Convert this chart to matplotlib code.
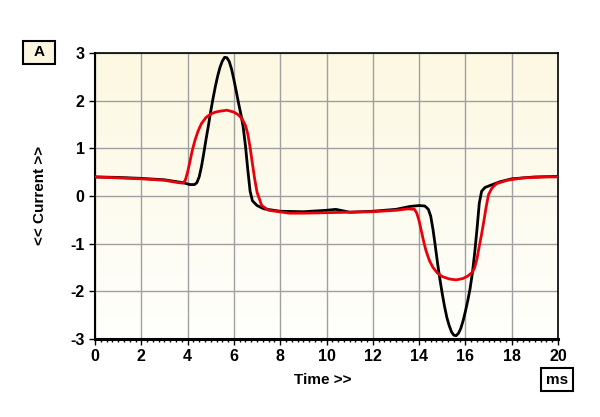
import numpy as np
import matplotlib
matplotlib.use("Agg")
import matplotlib.pyplot as plt
from matplotlib.patches import Rectangle
from matplotlib.ticker import MultipleLocator

# ------------------ DADOS ------------------
t_preto = [0, 1, 2, 3, 3.8, 4.1, 4.3, 4.4, 4.5, 4.6, 4.7, 4.8, 4.9, 5.0, 5.1, 5.2, 5.3,
           5.4, 5.5, 5.6, 5.7, 5.8, 5.9, 6.0, 6.1, 6.2, 6.3, 6.4, 6.5, 6.6, 6.7, 6.8,
           7.0, 7.3, 8, 9, 10, 10.4, 11, 12, 13, 13.6, 14.0, 14.25, 14.4, 14.5, 14.6,
           14.7, 14.8, 14.9, 15.0, 15.1, 15.2, 15.3, 15.4, 15.5, 15.6, 15.7, 15.8,
           15.9, 16.0, 16.1, 16.2, 16.3, 16.4, 16.5, 16.6, 16.7, 16.85, 17.06, 17.5,
           18, 19, 20]
i_preto = [0.40, 0.39, 0.37, 0.34, 0.28, 0.24, 0.24, 0.28, 0.40, 0.62, 0.90, 1.20, 1.48,
           1.78, 2.05, 2.30, 2.52, 2.70, 2.83, 2.91, 2.90, 2.82, 2.66, 2.44, 2.20, 1.95,
           1.72, 1.45, 1.05, 0.55, 0.10, -0.10, -0.20, -0.27, -0.32, -0.33, -0.30, -0.28,
           -0.34, -0.32, -0.28, -0.22, -0.20, -0.21, -0.28, -0.42, -0.70, -1.05, -1.42,
           -1.75, -2.05, -2.32, -2.55, -2.72, -2.85, -2.92, -2.93, -2.88, -2.78, -2.62,
           -2.42, -2.20, -1.95, -1.62, -1.20, -0.70, -0.15, 0.10, 0.18, 0.22, 0.30, 0.36,
           0.40, 0.41]

t_verm = [0, 1, 2, 3, 3.6, 3.8, 3.9, 4.0, 4.1, 4.2, 4.32, 4.45, 4.6, 4.8, 5.0, 5.2, 5.4,
          5.7, 6.0, 6.2, 6.35, 6.5, 6.6, 6.7, 6.8, 6.9, 7.0, 7.2, 7.5, 8.4, 9, 10, 11, 12,
          13, 13.5, 13.8, 13.9, 14.0, 14.1, 14.2, 14.3, 14.45, 14.6, 14.8, 15.0, 15.3,
          15.6, 15.9, 16.1, 16.3, 16.4, 16.5, 16.6, 16.7, 16.8, 16.9, 17.0, 17.15, 17.35,
          17.8, 18.5, 19.5, 20]
i_verm = [0.40, 0.38, 0.36, 0.33, 0.28, 0.27, 0.33, 0.50, 0.72, 0.95, 1.17, 1.36, 1.52,
          1.65, 1.72, 1.76, 1.78, 1.80, 1.76, 1.70, 1.62, 1.48, 1.30, 1.02, 0.68, 0.35,
          0.08, -0.20, -0.30, -0.36, -0.36, -0.35, -0.34, -0.33, -0.30, -0.27, -0.28,
          -0.36, -0.52, -0.74, -0.96, -1.15, -1.36, -1.50, -1.62, -1.69, -1.74, -1.76,
          -1.73, -1.68, -1.60, -1.50, -1.32, -1.05, -0.80, -0.52, -0.22, 0.03, 0.17,
          0.26, 0.33, 0.38, 0.40, 0.40]

x_ticks = [0, 2, 4, 6, 8, 10, 12, 14, 16, 18, 20]
y_ticks = [-3, -2, -1, 0, 1, 2, 3]

# ------------------ GRAFICO ------------------
plt.rcParams['font.family'] = ['Liberation Sans', 'DejaVu Sans']
plt.rcParams['font.weight'] = 'bold'
plt.rcParams['axes.unicode_minus'] = False

fig = plt.figure(figsize=(6, 4.17), dpi=100)
ax = fig.add_axes([95 / 600, 1 - 339 / 417, 463 / 600, 286 / 417])

# fundo em degrade (amarelo claro em cima, branco embaixo)
grad = np.linspace(0, 1, 256).reshape(-1, 1)
cmap = matplotlib.colors.LinearSegmentedColormap.from_list('bg', ['#FCF8E1', '#FFFFFC'])
ax.imshow(grad, extent=[0, 20, -3, 3], aspect='auto', cmap=cmap, origin='upper', zorder=0)

ax.set_xlim(0, 20)
ax.set_ylim(-3, 3)
ax.set_xticks(x_ticks)
ax.set_yticks(y_ticks)
ax.xaxis.set_minor_locator(MultipleLocator(0.25))
ax.grid(True, which='major', color='#A0A0A0', linewidth=1, zorder=1)

ax.plot(t_preto, i_preto, color='black', linewidth=2.0, zorder=3)
ax.plot(t_verm, i_verm, color='#E8000A', linewidth=2.0, zorder=4)

for s in ax.spines.values():
    s.set_color('black')
    s.set_linewidth(1.2)
ax.spines['bottom'].set_linewidth(2.2)
ax.spines['left'].set_linewidth(1.5)

ax.tick_params(axis='both', which='major', labelsize=11.5, direction='out', length=4, width=1)
ax.tick_params(axis='x', which='minor', direction='out', length=2, width=1)
for lab in ax.get_xticklabels() + ax.get_yticklabels():
    lab.set_fontweight('bold')

fig.text(323 / 600, 1 - 380 / 417, "Time >>", ha='center', va='center', fontsize=11, fontweight='bold')
fig.text(40 / 600, 1 - 195 / 417, "<< Current >>", ha='center', va='center', rotation=90,
         fontsize=11, fontweight='bold')

# caixas "A" e "ms"
fig.add_artist(Rectangle((23 / 600, 1 - 64 / 417), 32 / 600, 23 / 417, transform=fig.transFigure,
                         facecolor='#FBF6E0', edgecolor='black', linewidth=1.5))
fig.text(39 / 600, 1 - 52.5 / 417, "A", ha='center', va='center', fontsize=11, fontweight='bold')
fig.add_artist(Rectangle((541 / 600, 1 - 391 / 417), 32 / 600, 23 / 417, transform=fig.transFigure,
                         facecolor='white', edgecolor='black', linewidth=1.5))
fig.text(557 / 600, 1 - 379.5 / 417, "ms", ha='center', va='center', fontsize=11, fontweight='bold')

fig.savefig('out.png', dpi=100)
